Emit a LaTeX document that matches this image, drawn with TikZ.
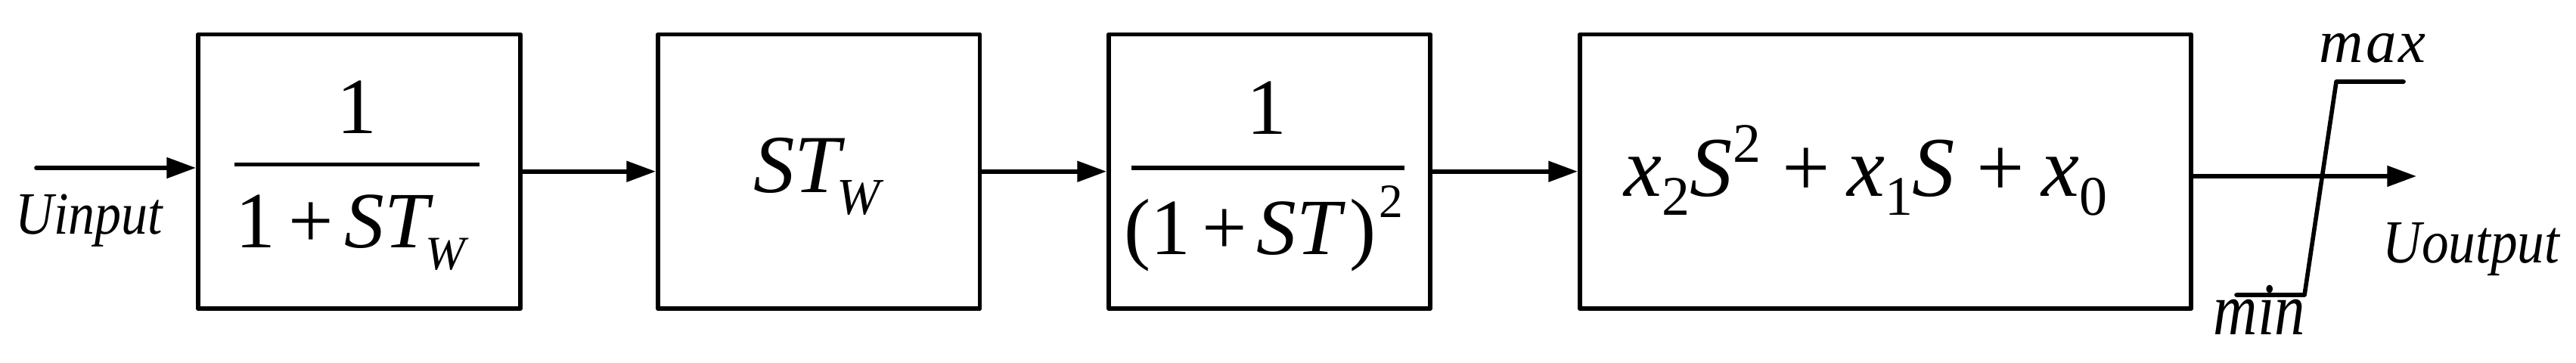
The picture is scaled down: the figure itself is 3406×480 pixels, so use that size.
\documentclass[tikz,border=0pt]{standalone}
\usepackage{fontspec}
\usepackage{graphicx}
\setmainfont{Liberation Serif}
\usetikzlibrary{arrows.meta}
\newcommand\fs[1]{\fontsize{#1}{#1}\selectfont}
\newcommand\lowered[3]{\raisebox{-#1}{\fs{#2}#3}}
\newcommand\raised[3]{\raisebox{#1}{\fs{#2}#3}}
\begin{document}
\begin{tikzpicture}[x=0.01cm,y=-0.01cm,
  blk/.style={draw, line width=1.6pt, line join=round, minimum height=3.625cm, inner sep=0pt},
  conn/.style={line width=1.6pt, line cap=round, -{Triangle[length=11pt,width=7.6pt]}},
  fbar/.style={line width=1.5pt},
  sat/.style={line width=1.6pt, line join=round, line cap=round},
  txt/.style={inner sep=0pt, anchor=base},
  lbl/.style={inner sep=0pt, anchor=base west, font=\itshape}]
\useasboundingbox (0,0) rectangle (3406,480);
% blocks
\node[blk, minimum width=4.26cm]  (b1) at (475,226.75) {};
\node[blk, minimum width=4.255cm] (b2) at (1082.75,226.75) {};
\node[blk, minimum width=4.25cm]  (b3) at (1678.5,226.75) {};
\node[blk, minimum width=8.08cm]  (b4) at (2493,226.75) {};
% block 1: 1/(1+ST_W)
\node[txt, font=\fs{30}] (n1) at (472,177) {1};
\coordinate (f1l) at (310,217.5);
\coordinate (f1r) at (634,217.5);
\draw[fbar] (f1l) -- (f1r);
\node[txt, font=\fs{30}] (d1) at (466,328) {1\hspace{0.16em}+\hspace{0.14em}\textit{ST}\hspace{-0.1em}\lowered{8.2pt}{18}{\textit{W}}};
% block 2: ST_W
\node[txt, font=\fs{31}] (t2) at (1082.5,255) {\textit{ST}\hspace{-0.1em}\lowered{8pt}{19.5}{\textit{W}}};
% block 3: 1/(1+ST)^2
\node[txt, font=\fs{30}] (n3) at (1675,178) {1};
\coordinate (f3l) at (1496,222);
\coordinate (f3r) at (1857,222);
\draw[fbar] (f3l) -- (f3r);
\node[txt, font=\fs{30}] (d3) at (1671,337) {(1\hspace{0.14em}+\hspace{0.12em}\textit{ST}\hspace{0.05em})\hspace{0.04em}\raised{14pt}{18}{2}};
% block 4
\node[txt, font=\fs{32}] (t4) at (2467,260) {\textit{x}\lowered{7pt}{21}{2}\textit{S}\raised{12.8pt}{21}{2}\hspace{0.25em}+\hspace{0.2em}\textit{x}\lowered{7pt}{21}{1}\textit{S}\hspace{0.25em}+\hspace{0.2em}\textit{x}\lowered{7pt}{21}{0}};
% connectors
\coordinate (instart) at (48,222);
\coordinate (outend) at (3195,233);
\draw[conn] (instart) -- (instart -| b1.west);
\draw[conn] (b1.east) -- (b2.west);
\draw[conn] (b2.east) -- (b3.west);
\draw[conn] (b3.east) -- (b4.west);
\draw[conn] (b4.east |- outend) -- (outend);
% saturation
\coordinate (s1) at (2957,390);
\coordinate (s2) at (3047,390);
\coordinate (s3) at (3089,108);
\coordinate (s4) at (3178,108);
\draw[sat] (s1) -- (s2) -- (s3) -- (s4);
% labels
\node[lbl, font=\fs{22.6}\itshape] (uin) at (20,310) {\scalebox{0.88}[1]{Uinput}};
\node[lbl, font=\fs{23}\itshape] (uout) at (3150,348) {\scalebox{0.88}[1]{Uoutput}};
\node[lbl, font=\fs{23}\itshape] (mx) at (3066,83) {m\hspace{0.04em}a\hspace{0.04em}x};
\node[lbl, font=\fs{28}\itshape] (mn) at (2926,443) {\scalebox{0.82}[1]{min}};
\end{tikzpicture}
\end{document}
